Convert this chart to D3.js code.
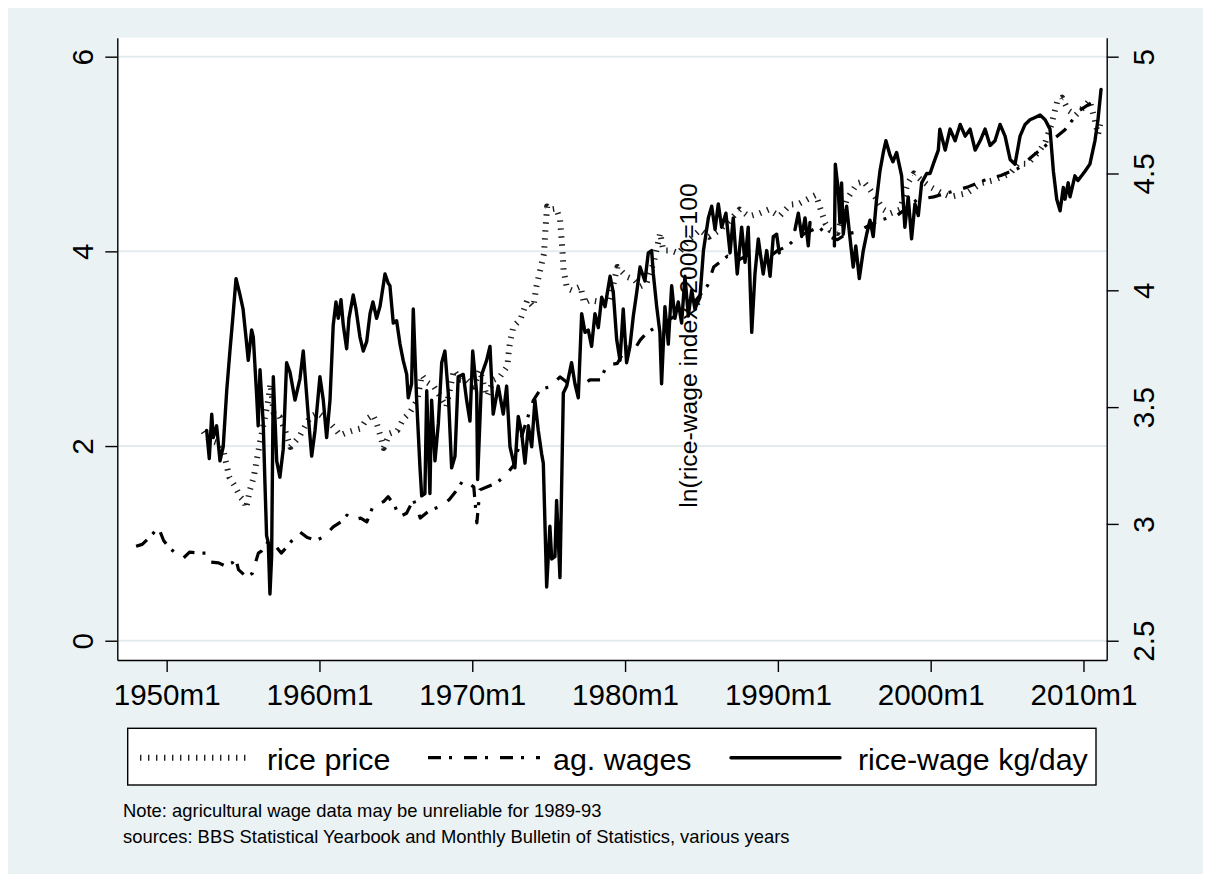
<!DOCTYPE html>
<html><head><meta charset="utf-8">
<script src="https://cdn.jsdelivr.net/npm/d3@7"></script>
<style>
html,body{margin:0;padding:0;background:#fff;}
svg{display:block;font-family:"Liberation Sans",Arial,Helvetica,sans-serif;}
</style>
</head><body>
<svg id="chart" width="1211" height="882"></svg>
<script>
// ---------------- data ----------------
const xTickYears = [1950, 1960, 1970, 1980, 1990, 2000, 2010];
const xTickLabels = ["1950m1", "1960m1", "1970m1", "1980m1", "1990m1", "2000m1", "2010m1"];
const leftTicks = [0, 2, 4, 6];
const rightTicks = [2.5, 3, 3.5, 4, 4.5, 5];
const legendLabels = ["rice price", "ag. wages", "rice-wage kg/day"];
const rightAxisTitle = "ln(rice-wage index, 2000=100";
const noteLines = [
  "Note: agricultural wage data may be unreliable for 1989-93",
  "sources: BBS Statistical Yearbook and Monthly Bulletin of Statistics, various years"
];

// rice price (left axis), [decimal year, value]
const ricePrice = [
  [1952.4,2.15],[1952.8,2.06],[1953.4,2.03],[1953.7,1.96],[1953.9,1.82],[1954.1,1.68],[1954.5,1.58],
  [1954.8,1.48],[1955.1,1.43],[1955.2,1.36],[1955.45,1.55],[1955.7,1.68],[1955.9,1.86],[1956.1,2.03],
  [1956.4,2.27],[1956.65,2.47],[1956.8,2.64],[1957.0,2.34],[1957.4,2.30],[1957.75,2.16],[1958.1,1.99],
  [1958.7,2.10],[1958.9,2.16],[1959.4,2.30],[1959.9,2.34],[1960.5,2.27],[1960.9,2.20],[1961.35,2.11],
  [1961.8,2.14],[1962.2,2.16],[1962.7,2.18],[1963.1,2.28],[1963.5,2.32],[1963.75,2.23],[1964.0,2.10],
  [1964.2,1.98],[1964.6,2.13],[1965.1,2.16],[1965.5,2.28],[1965.9,2.34],[1966.4,2.47],[1966.7,2.73],
  [1967.0,2.66],[1967.5,2.61],[1967.9,2.51],[1968.3,2.40],[1968.8,2.78],[1969.2,2.68],[1969.65,2.68],
  [1970.1,2.61],[1970.5,2.78],[1970.95,2.51],[1971.4,2.68],[1971.8,2.71],[1972.3,2.82],[1972.4,2.99],
  [1972.5,3.09],[1972.7,3.23],[1973.15,3.30],[1973.6,3.50],[1974.0,3.43],[1974.2,3.64],[1974.45,3.81],
  [1974.7,3.98],[1974.8,4.25],[1974.9,4.46],[1975.1,4.43],[1975.5,4.44],[1975.75,4.32],[1975.9,4.01],
  [1975.97,3.81],[1976.2,3.62],[1976.5,3.60],[1977.1,3.64],[1977.3,3.47],[1977.7,3.50],[1978.4,3.48],
  [1979.0,3.50],[1979.5,3.84],[1980.1,3.74],[1980.6,3.71],[1981.0,3.64],[1981.4,3.67],[1981.9,3.90],
  [1982.3,4.19],[1982.5,4.01],[1983.0,4.01],[1983.5,3.98],[1984.2,4.12],[1984.9,4.22],[1985.5,4.15],
  [1986.2,4.22],[1986.8,4.31],[1987.5,4.43],[1988.1,4.36],[1988.8,4.39],[1989.4,4.43],[1990.1,4.36],
  [1990.8,4.48],[1991.4,4.49],[1992.1,4.55],[1992.5,4.58],[1992.8,4.43],[1993.1,4.29],[1993.4,4.22],
  [1993.9,4.19],[1994.5,4.53],[1995.2,4.70],[1995.6,4.72],[1996.05,4.63],[1996.5,4.53],[1996.9,4.43],
  [1997.35,4.39],[1998.0,4.43],[1998.5,4.70],[1998.9,4.80],[1999.4,4.73],[2000.0,4.66],[2000.7,4.60],
  [2001.3,4.56],[2002.4,4.60],[2003.3,4.70],[2004.1,4.73],[2005.2,4.80],[2005.7,4.90],[2006.35,4.90],
  [2007.0,5.01],[2007.5,5.12],[2007.9,5.30],[2008.3,5.55],[2008.6,5.58],[2009.0,5.45],[2009.5,5.40],
  [2010.0,5.48],[2010.4,5.55],[2010.75,5.35],[2010.95,5.20],[2011.15,5.35]
];

// agricultural wages (left axis)
const agWages = [
  [1948.0,0.97],[1948.4,0.99],[1948.8,1.05],[1949.1,1.10],[1949.45,1.17],[1949.8,1.03],[1950.2,0.95],
  [1950.6,0.90],[1951.1,0.85],[1951.5,0.91],[1952.2,0.90],[1952.6,0.90],[1952.8,0.81],[1953.4,0.80],
  [1953.8,0.77],[1954.3,0.80],[1954.5,0.86],[1954.7,0.73],[1955.2,0.66],[1955.6,0.69],[1956.0,0.90],
  [1956.2,0.92],[1956.7,1.03],[1957.0,1.00],[1957.5,0.90],[1957.9,0.97],[1958.2,1.03],[1958.7,1.12],
  [1959.2,1.06],[1959.8,1.03],[1960.3,1.07],[1960.9,1.17],[1961.4,1.22],[1961.8,1.29],[1962.2,1.24],
  [1962.7,1.26],[1963.1,1.22],[1963.5,1.38],[1964.2,1.43],[1964.5,1.48],[1964.95,1.38],[1965.2,1.27],
  [1965.7,1.31],[1966.15,1.45],[1966.6,1.26],[1967.2,1.34],[1967.9,1.38],[1968.5,1.45],[1969.0,1.55],
  [1969.4,1.65],[1970.1,1.58],[1970.3,1.21],[1970.5,1.55],[1970.95,1.58],[1971.6,1.62],[1972.3,1.72],
  [1972.7,1.80],[1973.35,2.16],[1974.0,2.47],[1974.45,2.58],[1975.1,2.61],[1975.75,2.71],[1976.4,2.63],
  [1977.1,2.61],[1977.7,2.68],[1978.4,2.68],[1978.8,2.83],[1979.5,2.85],[1980.1,3.02],[1980.6,2.99],
  [1981.0,3.09],[1981.4,3.16],[1981.9,3.21],[1982.5,3.26],[1983.2,3.33],[1983.8,3.40],[1984.4,3.45],
  [1984.9,3.55],[1985.4,3.65],[1985.8,3.84],[1986.7,3.95],[1987.3,3.90],[1988.0,3.96],[1988.8,3.98],
  [1989.5,3.95],[1990.0,4.01],[1990.6,4.05],[1991.3,4.15],[1992.0,4.20],[1992.7,4.25],[1993.3,4.15],
  [1993.9,4.12],[1994.5,4.18],[1995.2,4.20],[1996.0,4.27],[1996.7,4.32],[1997.8,4.37],[1998.5,4.45],
  [1999.1,4.53],[2000.2,4.56],[2001.3,4.61],[2002.4,4.66],[2003.5,4.73],[2004.6,4.78],[2005.7,4.85],
  [2006.75,4.99],[2007.94,5.14],[2008.79,5.25],[2009.77,5.45],[2010.75,5.55]
];

// ln(rice-wage index) (right axis); null = gap
const riceWage = [
  [1952.62,3.40],[1952.79,3.28],[1952.95,3.47],[1953.05,3.37],[1953.27,3.42],[1953.49,3.27],[1953.70,3.33],
  [1953.93,3.57],[1954.14,3.74],[1954.34,3.89],[1954.54,4.05],[1954.80,3.98],[1955.0,3.92],[1955.19,3.80],
  [1955.34,3.70],[1955.56,3.83],[1955.67,3.80],[1955.89,3.55],[1955.99,3.42],[1956.11,3.66],[1956.32,3.43],
  [1956.43,3.18],[1956.54,2.95],[1956.65,2.92],[1956.76,2.70],[1956.87,2.86],[1956.98,3.63],[1957.2,3.27],
  [1957.41,3.20],[1957.63,3.32],[1957.85,3.69],[1958.07,3.65],[1958.4,3.53],[1958.72,3.62],[1958.94,3.74],
  [1959.27,3.46],[1959.49,3.29],[1959.71,3.40],[1960.03,3.63],[1960.25,3.53],[1960.47,3.37],[1960.69,3.53],
  [1960.9,3.85],[1961.08,3.95],[1961.23,3.88],[1961.41,3.96],[1961.56,3.85],[1961.78,3.75],[1961.93,3.88],
  [1962.21,3.98],[1962.39,3.92],[1962.65,3.80],[1962.87,3.74],[1963.09,3.78],[1963.31,3.90],[1963.5,3.95],
  [1963.74,3.88],[1963.96,3.93],[1964.29,4.07],[1964.5,4.03],[1964.61,4.02],[1964.83,3.86],[1965.05,3.87],
  [1965.27,3.77],[1965.48,3.70],[1965.71,3.64],[1965.81,3.54],[1966.03,3.60],[1966.14,3.92],[1966.36,3.53],
  [1966.58,3.24],[1966.69,3.12],[1966.9,3.13],[1967.02,3.57],[1967.23,3.13],[1967.34,3.53],[1967.56,3.27],
  [1967.78,3.43],[1968.0,3.69],[1968.21,3.74],[1968.43,3.56],[1968.65,3.24],[1968.87,3.29],[1969.08,3.63],
  [1969.41,3.64],[1969.63,3.53],[1969.85,3.44],[1970.03,3.74],[1970.29,3.56],[1970.35,3.19],[1970.62,3.64],
  [1970.94,3.70],[1971.16,3.76],[1971.37,3.47],[1971.7,3.59],[1972.03,3.47],[1972.25,3.59],[1972.47,3.33],
  [1972.79,3.24],[1973.01,3.46],[1973.23,3.39],[1973.45,3.26],[1973.67,3.42],[1973.89,3.33],[1974.1,3.53],
  [1974.32,3.40],[1974.54,3.30],[1974.65,3.26],[1974.87,2.73],[1975.08,2.99],[1975.2,2.85],[1975.41,2.86],
  [1975.52,3.10],[1975.74,2.77],[1975.96,3.56],[1976.18,3.59],[1976.5,3.69],[1976.72,3.60],[1976.94,3.54],
  [1977.16,3.90],[1977.38,3.82],[1977.59,3.83],[1977.81,3.76],[1978.03,3.90],[1978.25,3.84],[1978.47,3.97],
  [1978.69,3.93],[1979.02,4.06],[1979.23,3.99],[1979.45,3.79],[1979.67,3.70],[1979.88,3.92],[1980.1,3.69],
  [1980.32,3.76],[1980.54,3.89],[1980.76,3.99],[1980.98,4.10],[1981.3,4.04],[1981.52,4.16],[1981.74,4.17],
  [1981.85,4.07],[1982.07,3.93],[1982.28,3.82],[1982.39,3.60],[1982.61,3.93],[1982.83,3.77],[1983.05,4.02],
  [1983.26,3.88],[1983.48,3.95],[1983.7,3.86],[1983.92,4.06],[1984.14,3.89],[1984.36,4.00],[1984.57,3.92],
  [1984.9,3.97],[1985.13,4.17],[1985.45,4.31],[1985.67,4.36],[1985.89,4.26],[1986.1,4.37],[1986.32,4.27],
  [1986.6,4.33],[1986.87,4.16],[1987.08,4.31],[1987.34,4.07],[1987.63,4.27],[1987.85,4.12],[1988.06,4.27],
  [1988.29,3.82],[1988.5,4.07],[1988.72,4.22],[1989.04,4.07],[1989.27,4.17],[1989.49,4.06],[1989.7,4.23],
  [1989.92,4.24],[1990.09,4.16],[1990.5,null],[1991.12,4.26],[1991.34,4.33],[1991.56,4.23],[1991.78,4.31],
  [1991.99,4.19],[1992.1,4.29],[1992.8,null],[1993.70,4.19],[1993.76,4.54],[1993.95,4.43],[1994.06,4.29],
  [1994.17,4.46],[1994.28,4.24],[1994.5,4.36],[1994.71,4.23],[1994.93,4.10],[1995.1,4.19],[1995.33,4.05],
  [1995.59,4.17],[1995.81,4.24],[1996.03,4.30],[1996.24,4.23],[1996.46,4.39],[1996.68,4.51],[1996.9,4.59],
  [1997.07,4.64],[1997.33,4.58],[1997.53,4.55],[1997.77,4.59],[1998.1,4.49],[1998.31,4.27],[1998.53,4.40],
  [1998.75,4.22],[1998.97,4.37],[1999.19,4.32],[1999.41,4.46],[1999.74,4.50],[1999.96,4.50],[2000.17,4.54],
  [2000.5,4.60],[2000.6,4.69],[2000.95,4.60],[2001.27,4.69],[2001.6,4.64],[2001.93,4.71],[2002.26,4.66],
  [2002.58,4.69],[2002.91,4.60],[2003.24,4.64],[2003.56,4.69],[2003.89,4.62],[2004.21,4.64],[2004.54,4.71],
  [2004.87,4.66],[2005.2,4.56],[2005.52,4.54],[2005.85,4.66],[2006.18,4.71],[2006.5,4.73],[2006.83,4.74],
  [2007.16,4.75],[2007.49,4.73],[2007.81,4.69],[2008.03,4.51],[2008.25,4.39],[2008.47,4.34],[2008.68,4.44],
  [2008.79,4.39],[2009.0,4.46],[2009.12,4.40],[2009.44,4.49],[2009.64,4.47],[2010.1,4.51],[2010.42,4.54],
  [2010.75,4.64],[2010.95,4.73],[2011.15,4.86]
];

// ---------------- layout ----------------
const W = 1211, H = 882;
const plot = {x0: 117.3, x1: 1106.7, y0: 37.7, y1: 660};
const xDomain = [1946.77, 2011.52];
const leftDomain = [-0.198, 6.195];
const toRight = v => 2.5 + v * 2.5 / 6;
const rightDomain = leftDomain.map(toRight);

const BG = "#EAF2F3";
const FONT = '"Liberation Sans", Arial, Helvetica, sans-serif';

const svg = d3.select("#chart");

// outer background
svg.append("rect").attr("x", 0).attr("y", 0).attr("width", W).attr("height", H).attr("fill", "#fff");
svg.append("rect").attr("x", 8).attr("y", 8).attr("width", W - 16).attr("height", H - 16).attr("fill", BG);

const x = d3.scaleLinear().domain(xDomain).range([plot.x0, plot.x1]);
const yL = d3.scaleLinear().domain(leftDomain).range([plot.y1, plot.y0]);
const yR = d3.scaleLinear().domain(rightDomain).range([plot.y1, plot.y0]);

// plot region
svg.append("rect").attr("x", plot.x0).attr("y", plot.y0)
  .attr("width", plot.x1 - plot.x0).attr("height", plot.y1 - plot.y0).attr("fill", "#fff");

// grid lines
svg.append("g").selectAll("line").data(leftTicks).join("line")
  .attr("x1", plot.x0).attr("x2", plot.x1)
  .attr("y1", d => yL(d)).attr("y2", d => yL(d))
  .attr("stroke", "#E2ECEE").attr("stroke-width", 2);

// clip
svg.append("clipPath").attr("id", "clip").append("rect")
  .attr("x", plot.x0).attr("y", plot.y0).attr("width", plot.x1 - plot.x0).attr("height", plot.y1 - plot.y0);

const gData = svg.append("g").attr("clip-path", "url(#clip)");

const lineL = d3.line().defined(d => d[1] !== null).x(d => x(d[0])).y(d => yL(d[1]));
const lineR = d3.line().defined(d => d[1] !== null).x(d => x(d[0])).y(d => yR(d[1]));

const styles = [
  {stroke: "#1e1e1e", width: 6, dash: "1.4 6.6", cap: "butt"},
  {stroke: "#000", width: 3.2, dash: "13 8 3 12", cap: "butt"},
  {stroke: "#000", width: 3.4, dash: null, cap: "round"}
];

function styleLine(sel, s) {
  sel.attr("fill", "none").attr("stroke", s.stroke).attr("stroke-width", s.width)
    .attr("stroke-linecap", s.cap).attr("stroke-linejoin", "round");
  if (s.dash) sel.attr("stroke-dasharray", s.dash);
  return sel;
}

styleLine(gData.append("path").datum(ricePrice).attr("d", lineL), styles[0]);
styleLine(gData.append("path").datum(agWages).attr("d", lineL), styles[1]);
styleLine(gData.append("path").datum(riceWage).attr("d", lineR), styles[2]);

// axes
const tickFont = 29.6;
const gx = svg.append("g").attr("transform", `translate(0,${plot.y1})`)
  .call(d3.axisBottom(x).tickValues(xTickYears).tickFormat((d, i) => xTickLabels[i]).tickSize(12).tickSizeOuter(0));
gx.selectAll("text").attr("y", 45).attr("dy", null).attr("font-size", tickFont)
  .attr("font-family", FONT).attr("fill", "#000");

const gl = svg.append("g").attr("transform", `translate(${plot.x0},0)`)
  .call(d3.axisLeft(yL).tickValues(leftTicks).tickFormat(d3.format("d")).tickSize(12).tickSizeOuter(0));
gl.selectAll(".tick text").attr("x", null).attr("dy", null).attr("text-anchor", "middle")
  .attr("transform", "translate(-24.3,0) rotate(-90)")
  .attr("font-size", tickFont).attr("font-family", FONT).attr("fill", "#000");

const gr = svg.append("g").attr("transform", `translate(${plot.x1},0)`)
  .call(d3.axisRight(yR).tickValues(rightTicks).tickFormat(d => String(d)).tickSize(12).tickSizeOuter(0));
gr.selectAll(".tick text").attr("x", null).attr("dy", null).attr("text-anchor", "middle")
  .attr("transform", "translate(47.3,0) rotate(-90)")
  .attr("font-size", tickFont).attr("font-family", FONT).attr("fill", "#000");

[gx, gl, gr].forEach(g => {
  g.selectAll("path.domain").attr("stroke", "#000").attr("stroke-width", 1.4);
  g.selectAll(".tick line").attr("stroke", "#000").attr("stroke-width", 1.4);
});

// right axis title (placed inside the plot as in the original)
svg.append("text").attr("transform", "translate(697,345.5) rotate(-90)")
  .attr("text-anchor", "middle").attr("font-size", 24.7).attr("font-family", FONT)
  .attr("fill", "#000").text(rightAxisTitle);

// legend
const legend = svg.append("g");
legend.append("rect").attr("x", 127.7).attr("y", 728.3).attr("width", 968.3).attr("height", 56.7)
  .attr("fill", "#fff").attr("stroke", "#000").attr("stroke-width", 1.4);
const legendKeys = [
  {x1: 140, x2: 248, tx: 267},
  {x1: 428, x2: 540, tx: 553},
  {x1: 731, x2: 840, tx: 858}
];
legendKeys.forEach((k, i) => {
  styleLine(legend.append("line").attr("x1", k.x1).attr("x2", k.x2).attr("y1", 757.7).attr("y2", 757.7), styles[i]);
  legend.append("text").attr("x", k.tx).attr("y", 770).attr("font-size", 30.4)
    .attr("font-family", FONT).attr("fill", "#000").text(legendLabels[i]);
});

// notes
svg.selectAll("text.note").data(noteLines).join("text").attr("class", "note")
  .attr("x", 123).attr("y", (d, i) => 816.7 + i * 26.6)
  .attr("font-size", 18.4).attr("font-family", FONT).attr("fill", "#000").text(d => d);
</script>
</body></html>
